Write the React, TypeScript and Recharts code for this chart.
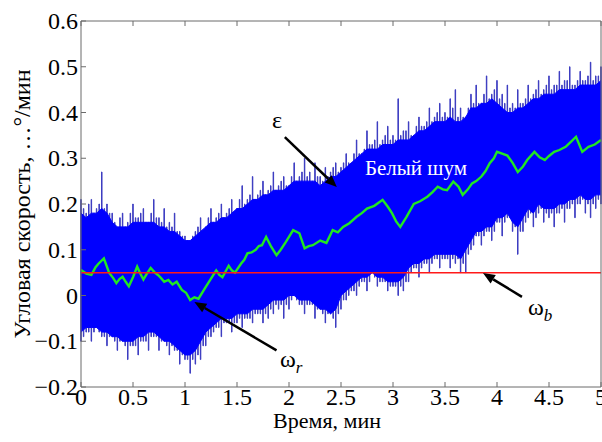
import { Area, Bar, ComposedChart, Line, ReferenceDot, ReferenceLine, XAxis, YAxis } from 'recharts'

// white noise: spike tips every 0.025 min
const noiseTime = [
  0, 0.025, 0.05, 0.075, 0.1, 0.125, 0.15, 0.175, 0.2, 0.225, 0.25, 0.275, 0.3, 0.325, 0.35, 0.375, 0.4, 0.425, 0.45, 0.475,
  0.5, 0.525, 0.55, 0.575, 0.6, 0.625, 0.65, 0.675, 0.7, 0.725, 0.75, 0.775, 0.8, 0.825, 0.85, 0.875, 0.9, 0.925, 0.95, 0.975,
  1, 1.025, 1.05, 1.075, 1.1, 1.125, 1.15, 1.175, 1.2, 1.225, 1.25, 1.275, 1.3, 1.325, 1.35, 1.375, 1.4, 1.425, 1.45, 1.475,
  1.5, 1.525, 1.55, 1.575, 1.6, 1.625, 1.65, 1.675, 1.7, 1.725, 1.75, 1.775, 1.8, 1.825, 1.85, 1.875, 1.9, 1.925, 1.95, 1.975,
  2, 2.025, 2.05, 2.075, 2.1, 2.125, 2.15, 2.175, 2.2, 2.225, 2.25, 2.275, 2.3, 2.325, 2.35, 2.375, 2.4, 2.425, 2.45, 2.475,
  2.5, 2.525, 2.55, 2.575, 2.6, 2.625, 2.65, 2.675, 2.7, 2.725, 2.75, 2.775, 2.8, 2.825, 2.85, 2.875, 2.9, 2.925, 2.95, 2.975,
  3, 3.025, 3.05, 3.075, 3.1, 3.125, 3.15, 3.175, 3.2, 3.225, 3.25, 3.275, 3.3, 3.325, 3.35, 3.375, 3.4, 3.425, 3.45, 3.475,
  3.5, 3.525, 3.55, 3.575, 3.6, 3.625, 3.65, 3.675, 3.7, 3.725, 3.75, 3.775, 3.8, 3.825, 3.85, 3.875, 3.9, 3.925, 3.95, 3.975,
  4, 4.025, 4.05, 4.075, 4.1, 4.125, 4.15, 4.175, 4.2, 4.225, 4.25, 4.275, 4.3, 4.325, 4.35, 4.375, 4.4, 4.425, 4.45, 4.475,
  4.5, 4.525, 4.55, 4.575, 4.6, 4.625, 4.65, 4.675, 4.7, 4.725, 4.75, 4.775, 4.8, 4.825, 4.85, 4.875, 4.9, 4.925, 4.95, 4.975,
  5,
]
const noiseHigh = [
  0.21, 0.19, 0.18, 0.2, 0.21, 0.18, 0.19, 0.2, 0.27, 0.19, 0.2, 0.18, 0.18, 0.16, 0.15, 0.17, 0.18, 0.15, 0.16, 0.18,
  0.2, 0.17, 0.17, 0.18, 0.19, 0.16, 0.16, 0.18, 0.21, 0.17, 0.17, 0.16, 0.19, 0.15, 0.16, 0.15, 0.18, 0.14, 0.14, 0.13,
  0.13, 0.12, 0.12, 0.13, 0.14, 0.15, 0.17, 0.14, 0.15, 0.17, 0.19, 0.16, 0.17, 0.18, 0.2, 0.17, 0.18, 0.19, 0.21, 0.18,
  0.19, 0.21, 0.24, 0.2, 0.21, 0.22, 0.26, 0.21, 0.22, 0.23, 0.25, 0.22, 0.23, 0.24, 0.27, 0.23, 0.24, 0.25, 0.26, 0.24,
  0.24, 0.26, 0.29, 0.25, 0.26, 0.27, 0.3, 0.26, 0.27, 0.25, 0.29, 0.26, 0.26, 0.25, 0.28, 0.26, 0.27, 0.28, 0.29, 0.27,
  0.28, 0.29, 0.31, 0.29, 0.29, 0.31, 0.34, 0.31, 0.31, 0.32, 0.36, 0.33, 0.33, 0.34, 0.38, 0.33, 0.34, 0.35, 0.37, 0.34,
  0.35, 0.34, 0.43, 0.35, 0.36, 0.36, 0.38, 0.35, 0.35, 0.37, 0.39, 0.37, 0.37, 0.38, 0.41, 0.38, 0.39, 0.4, 0.42, 0.39,
  0.4, 0.39, 0.43, 0.41, 0.45, 0.39, 0.41, 0.39, 0.39, 0.41, 0.44, 0.42, 0.46, 0.42, 0.42, 0.44, 0.48, 0.43, 0.44, 0.45,
  0.47, 0.43, 0.44, 0.42, 0.46, 0.41, 0.42, 0.41, 0.45, 0.42, 0.42, 0.43, 0.46, 0.43, 0.44, 0.45, 0.47, 0.44, 0.45, 0.46,
  0.48, 0.45, 0.46, 0.46, 0.49, 0.46, 0.47, 0.47, 0.5, 0.46, 0.46, 0.47, 0.49, 0.47, 0.47, 0.48, 0.51, 0.47, 0.48, 0.48,
  0.5,
]
const noiseLow = [
  -0.1, -0.09, -0.08, -0.08, -0.1, -0.08, -0.07, -0.08, -0.09, -0.09, -0.11, -0.09, -0.09, -0.1, -0.12, -0.1, -0.1, -0.11, -0.14, -0.11,
  -0.11, -0.11, -0.13, -0.1, -0.1, -0.1, -0.12, -0.09, -0.09, -0.09, -0.12, -0.1, -0.1, -0.11, -0.13, -0.11, -0.12, -0.12, -0.15, -0.13,
  -0.14, -0.14, -0.17, -0.14, -0.15, -0.13, -0.14, -0.11, -0.11, -0.09, -0.09, -0.08, -0.07, -0.07, -0.09, -0.06, -0.06, -0.06, -0.08, -0.06,
  -0.06, -0.05, -0.07, -0.05, -0.05, -0.05, -0.06, -0.04, -0.04, -0.04, -0.06, -0.04, -0.05, -0.03, -0.04, -0.02, -0.03, -0.02, -0.05, -0.02,
  -0.03, -0.01, 0, -0.01, -0.02, -0.02, -0.04, -0.02, -0.02, -0.02, -0.05, -0.03, -0.03, -0.04, -0.06, -0.04, -0.04, -0.05, -0.07, -0.04,
  -0.03, -0.01, -0.01, 0, 0.01, 0.01, 0, 0.02, 0.03, 0.03, 0.01, 0.03, 0.05, 0.04, 0.02, 0.03, 0.03, 0.03, 0.01, 0.02,
  0.02, 0.02, 0, 0.02, 0.01, 0.03, 0.03, 0.05, 0.06, 0.06, 0.04, 0.06, 0.07, 0.07, 0.05, 0.07, 0.08, 0.08, 0.06, 0.08,
  0.08, 0.08, 0.06, 0.08, 0.07, 0.08, 0.05, 0.07, 0.05, 0.09, 0.1, 0.11, 0.13, 0.13, 0.11, 0.13, 0.14, 0.14, 0.12, 0.14,
  0.16, 0.16, 0.13, 0.16, 0.17, 0.17, 0.14, 0.15, 0.09, 0.14, 0.14, 0.16, 0.17, 0.18, 0.15, 0.17, 0.18, 0.19, 0.16, 0.18,
  0.17, 0.18, 0.15, 0.18, 0.18, 0.19, 0.16, 0.19, 0.19, 0.2, 0.17, 0.2, 0.2, 0.21, 0.18, 0.2, 0.17, 0.2, 0.19, 0.21,
  0.2,
]

// solid core of the noise band, every 0.05 min
const coreTime = [
  0, 0.05, 0.1, 0.15, 0.2, 0.25, 0.3, 0.35, 0.4, 0.45, 0.5, 0.55, 0.6, 0.65, 0.7, 0.75, 0.8, 0.85, 0.9, 0.95,
  1, 1.05, 1.1, 1.15, 1.2, 1.25, 1.3, 1.35, 1.4, 1.45, 1.5, 1.55, 1.6, 1.65, 1.7, 1.75, 1.8, 1.85, 1.9, 1.95,
  2, 2.05, 2.1, 2.15, 2.2, 2.25, 2.3, 2.35, 2.4, 2.45, 2.5, 2.55, 2.6, 2.65, 2.7, 2.75, 2.8, 2.85, 2.9, 2.95,
  3, 3.05, 3.1, 3.15, 3.2, 3.25, 3.3, 3.35, 3.4, 3.45, 3.5, 3.55, 3.6, 3.65, 3.7, 3.75, 3.8, 3.85, 3.9, 3.95,
  4, 4.05, 4.1, 4.15, 4.2, 4.25, 4.3, 4.35, 4.4, 4.45, 4.5, 4.55, 4.6, 4.65, 4.7, 4.75, 4.8, 4.85, 4.9, 4.95,
  5,
]
const coreHigh = [
  0.18, 0.17, 0.18, 0.18, 0.19, 0.18, 0.16, 0.15, 0.15, 0.15, 0.16, 0.16, 0.16, 0.16, 0.16, 0.15, 0.15, 0.14, 0.14, 0.13,
  0.12, 0.12, 0.13, 0.14, 0.15, 0.16, 0.16, 0.17, 0.17, 0.18, 0.19, 0.19, 0.2, 0.21, 0.21, 0.22, 0.22, 0.23, 0.23, 0.23,
  0.24, 0.25, 0.25, 0.25, 0.25, 0.25, 0.24, 0.25, 0.26, 0.26, 0.27, 0.28, 0.29, 0.3, 0.31, 0.32, 0.32, 0.32, 0.33, 0.33,
  0.33, 0.34, 0.34, 0.34, 0.35, 0.36, 0.36, 0.37, 0.38, 0.38, 0.38, 0.39, 0.38, 0.38, 0.39, 0.41, 0.41, 0.42, 0.42, 0.43,
  0.42, 0.41, 0.4, 0.4, 0.41, 0.41, 0.42, 0.43, 0.43, 0.44, 0.44, 0.44, 0.45, 0.45, 0.45, 0.45, 0.46, 0.46, 0.46, 0.46,
  0.47,
]
const coreLow = [
  -0.08, -0.07, -0.07, -0.07, -0.08, -0.08, -0.09, -0.09, -0.1, -0.1, -0.1, -0.09, -0.09, -0.08, -0.08, -0.09, -0.1, -0.1, -0.11, -0.12,
  -0.13, -0.13, -0.12, -0.1, -0.08, -0.07, -0.06, -0.05, -0.05, -0.05, -0.04, -0.04, -0.04, -0.03, -0.03, -0.03, -0.02, -0.01, -0.01, -0.01,
  0, 0, -0.01, -0.01, -0.01, -0.02, -0.03, -0.03, -0.04, -0.03, 0, 0.01, 0.02, 0.03, 0.04, 0.04, 0.05, 0.04, 0.04, 0.03,
  0.03, 0.03, 0.04, 0.06, 0.07, 0.07, 0.08, 0.08, 0.09, 0.09, 0.09, 0.09, 0.09, 0.08, 0.1, 0.12, 0.14, 0.14, 0.15, 0.15,
  0.17, 0.17, 0.18, 0.16, 0.15, 0.17, 0.19, 0.18, 0.2, 0.19, 0.19, 0.19, 0.2, 0.2, 0.21, 0.21, 0.22, 0.21, 0.21, 0.22,
  0.22,
]

// omega_r, the drifting rate
const driftTime = [
  0, 0.05, 0.1, 0.14, 0.17, 0.22, 0.27, 0.31, 0.34, 0.37, 0.4, 0.43, 0.46, 0.5, 0.54, 0.57, 0.6, 0.64, 0.67,
  0.71, 0.74, 0.77, 0.8, 0.84, 0.88, 0.92, 0.97, 1.01, 1.05, 1.09, 1.13, 1.17, 1.2, 1.25, 1.3, 1.33, 1.36,
  1.42, 1.45, 1.48, 1.54, 1.57, 1.6, 1.64, 1.68, 1.71, 1.74, 1.78, 1.83, 1.88, 1.92, 1.97, 2.04, 2.1, 2.15,
  2.19, 2.23, 2.3, 2.36, 2.42, 2.47, 2.52, 2.58, 2.65, 2.7, 2.75, 2.82, 2.9, 2.95, 2.99, 3.03, 3.07, 3.13,
  3.2, 3.26, 3.33, 3.38, 3.43, 3.48, 3.52, 3.58, 3.63, 3.67, 3.72, 3.76, 3.8, 3.85, 3.89, 3.93, 3.97, 4.0,
  4.05, 4.1, 4.15, 4.2, 4.25, 4.29, 4.36, 4.41, 4.46, 4.5, 4.55, 4.6, 4.66, 4.71, 4.76, 4.82, 4.88, 4.94, 5,
]
const driftValue = [
  0.056, 0.048, 0.045, 0.062, 0.07, 0.081, 0.05, 0.038, 0.027, 0.036, 0.041, 0.03, 0.02, 0.04, 0.063, 0.048,
  0.035, 0.05, 0.06, 0.05, 0.045, 0.038, 0.03, 0.034, 0.024, 0.03, 0.012, 0.006, -0.01, -0.004, -0.007,
  0.008, 0.019, 0.037, 0.055, 0.045, 0.04, 0.065, 0.055, 0.05, 0.07, 0.078, 0.092, 0.094, 0.1, 0.108, 0.11,
  0.128, 0.106, 0.088, 0.1, 0.117, 0.143, 0.136, 0.103, 0.108, 0.11, 0.12, 0.115, 0.143, 0.138, 0.15, 0.158,
  0.172, 0.18, 0.19, 0.196, 0.209, 0.194, 0.18, 0.162, 0.15, 0.172, 0.2, 0.206, 0.216, 0.226, 0.238, 0.232,
  0.23, 0.249, 0.238, 0.22, 0.232, 0.245, 0.25, 0.26, 0.272, 0.289, 0.3, 0.314, 0.31, 0.306, 0.29, 0.27,
  0.282, 0.296, 0.314, 0.302, 0.296, 0.305, 0.314, 0.318, 0.325, 0.336, 0.347, 0.314, 0.325, 0.33, 0.34,
]

// omega_b, constant bias
const biasTime = [0, 5]
const biasValue = [0.05, 0.05]

const xTicks = [0, 0.5, 1, 1.5, 2, 2.5, 3, 3.5, 4, 4.5, 5]
const yTicks = [-0.2, -0.1, 0, 0.1, 0.2, 0.3, 0.4, 0.5, 0.6]

const noiseData = noiseTime.map((t, i) => ({ t, spike: [noiseLow[i], noiseHigh[i]] }))
const coreData = coreTime.map((t, i) => ({ t, core: [coreLow[i], coreHigh[i]] }))
const driftData = driftTime.map((t, i) => ({ t, v: driftValue[i] }))
const biasData = biasTime.map((t, i) => ({ t, v: biasValue[i] }))

const FONT = 'Liberation Serif, DejaVu Serif, serif'
const AXIS = '#6b6b6b'
const TICK = 5

const fmt = (v: number) => (v < 0 ? '\u2212' + Math.abs(v) : String(v))

const BottomTick = ({ x, y, payload }: any) => (
  <g>
    <line x1={x} x2={x} y1={y} y2={y - TICK} stroke={AXIS} />
    <text x={x} y={y + 18} textAnchor="middle" fontSize={24} fontFamily={FONT} fill="#000">
      {fmt(payload.value)}
    </text>
  </g>
)

const LeftTick = ({ x, y, payload }: any) => (
  <g>
    <line x1={x} x2={x + TICK} y1={y} y2={y} stroke={AXIS} />
    <text x={x - 3} y={y + 8} textAnchor="end" fontSize={24} fontFamily={FONT} fill="#000">
      {fmt(payload.value)}
    </text>
  </g>
)

const TopTick = ({ x, y }: any) => <line x1={x} x2={x} y1={y} y2={y + TICK} stroke={AXIS} />
const RightTick = ({ x, y }: any) => <line x1={x} x2={x - TICK} y1={y} y2={y} stroke={AXIS} />

const arrow = ({ x1, y1, x2, y2 }: any) => {
  const len = Math.hypot(x2 - x1, y2 - y1)
  const ux = (x2 - x1) / len
  const uy = (y2 - y1) / len
  const bx = x2 - ux * 12
  const by = y2 - uy * 12
  return (
    <g>
      <line x1={x1} y1={y1} x2={bx} y2={by} stroke="#000" strokeWidth={2.5} />
      <polygon
        points={`${x2},${y2} ${bx - uy * 5},${by + ux * 5} ${bx + uy * 5},${by - ux * 5}`}
        fill="#000"
      />
    </g>
  )
}

const omega = (sub: string) => ({ cx, cy }: any) => (
  <text x={cx} y={cy} fontFamily={FONT} fontSize={24} fill="#000">
    ω
    <tspan fontStyle="italic" fontSize={17} dy={6}>
      {sub}
    </tspan>
  </text>
)

export default function App() {
  return (
    <div style={{ position: 'absolute', left: 0, top: 0 }}>
      <ComposedChart
        width={602}
        height={442}
        data={noiseData}
        margin={{ top: 1, right: 0, bottom: 0, left: 0 }}
      >
        <XAxis
          type="number"
          dataKey="t"
          domain={[0, 5]}
          ticks={xTicks}
          interval={0}
          height={55}
          tickSize={0}
          tickMargin={0}
          tickLine={false}
          axisLine={{ stroke: AXIS }}
          tick={<BottomTick />}
          label={{
            value: 'Время, мин',
            position: 'insideBottom',
            offset: 14,
            dx: -14,
            fontSize: 22,
            fontFamily: FONT,
            fill: '#000',
          }}
        />
        <XAxis
          xAxisId="top"
          orientation="top"
          type="number"
          dataKey="t"
          domain={[0, 5]}
          ticks={xTicks}
          interval={0}
          height={20}
          tickSize={0}
          tickMargin={0}
          tickLine={false}
          axisLine={{ stroke: AXIS }}
          tick={<TopTick />}
        />
        <YAxis
          type="number"
          domain={[-0.2, 0.6]}
          ticks={yTicks}
          interval={0}
          width={81}
          tickSize={0}
          tickMargin={0}
          tickLine={false}
          axisLine={{ stroke: AXIS }}
          tick={<LeftTick />}
          label={{
            value: 'Угловая скорость, …°/мин',
            angle: -90,
            position: 'center',
            dx: -19,
            fontSize: 24,
            fontFamily: FONT,
            fill: '#000',
          }}
        />
        <YAxis
          yAxisId="right"
          orientation="right"
          type="number"
          domain={[-0.2, 0.6]}
          ticks={yTicks}
          interval={0}
          width={1}
          tickSize={0}
          tickMargin={0}
          tickLine={false}
          axisLine={{ stroke: AXIS }}
          tick={<RightTick />}
        />
        <Bar
          dataKey="spike"
          barSize={1}
          fill="#2a2ad0"
          stroke="#3c3cc0"
          strokeWidth={1}
          zIndex={50}
          isAnimationActive={false}
        />
        <Area
          data={coreData}
          type="linear"
          dataKey="core"
          fill="#0000ff"
          fillOpacity={1}
          stroke="#0000ff"
          strokeWidth={1}
          dot={false}
          activeDot={false}
          zIndex={350}
          isAnimationActive={false}
        />
        <Line
          data={driftData}
          type="linear"
          dataKey="v"
          stroke="#22e622"
          strokeWidth={2.4}
          dot={false}
          activeDot={false}
          zIndex={400}
          isAnimationActive={false}
        />
        <Line
          data={biasData}
          type="linear"
          dataKey="v"
          stroke="#ff1a1a"
          strokeWidth={1.5}
          dot={false}
          activeDot={false}
          zIndex={410}
          isAnimationActive={false}
        />
        <ReferenceLine segment={[{ x: 1.96, y: 0.346 }, { x: 2.46, y: 0.237 }]} shape={arrow} zIndex={500} />
        <ReferenceLine segment={[{ x: 1.88, y: -0.12 }, { x: 1.09, y: -0.014 }]} shape={arrow} zIndex={500} />
        <ReferenceLine segment={[{ x: 4.24, y: -0.003 }, { x: 3.865, y: 0.049 }]} shape={arrow} zIndex={500} />
        <ReferenceDot
          x={1.885}
          y={0.366}
          r={0}
          zIndex={500}
          shape={({ cx, cy }: any) => (
            <text x={cx} y={cy} textAnchor="middle" fontFamily={FONT} fontSize={24} fill="#000">
              ε
            </text>
          )}
        />
        <ReferenceDot
          x={3.221}
          y={0.263}
          r={0}
          zIndex={500}
          shape={({ cx, cy }: any) => (
            <text x={cx} y={cy} textAnchor="middle" fontFamily={FONT} fontSize={21} fill="#fff">
              Белый шум
            </text>
          )}
        />
        <ReferenceDot x={1.913} y={-0.156} r={0} zIndex={500} shape={omega('r')} />
        <ReferenceDot x={4.298} y={-0.043} r={0} zIndex={500} shape={omega('b')} />
      </ComposedChart>
    </div>
  )
}
